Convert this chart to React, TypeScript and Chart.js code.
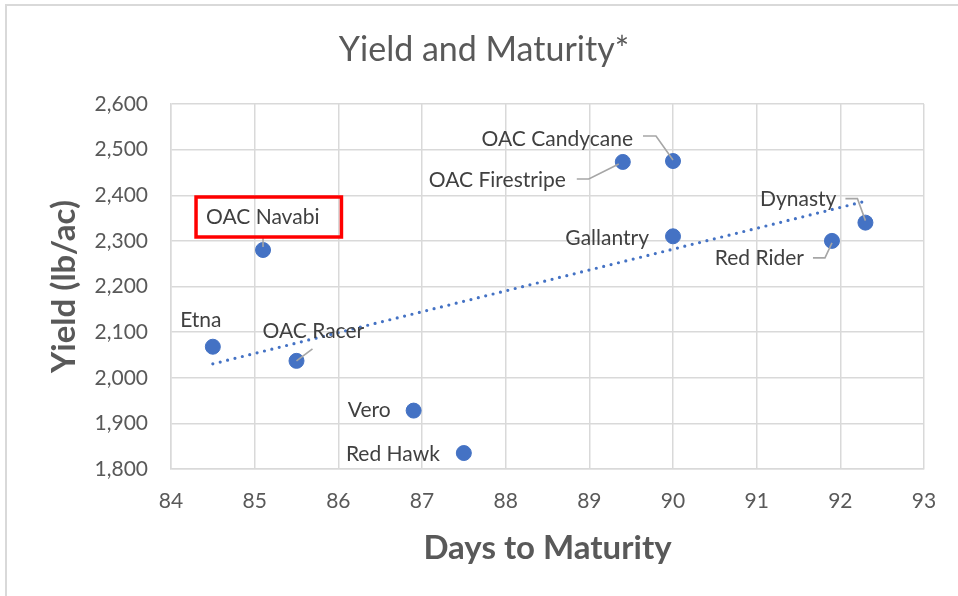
import React, { useEffect, useRef } from 'react';
import { Chart, registerables } from 'chart.js';

Chart.register(...registerables);

// ---- data ----
const varieties = [
  'Etna',
  'OAC Navabi',
  'OAC Racer',
  'Vero',
  'Red Hawk',
  'OAC Firestripe',
  'OAC Candycane',
  'Gallantry',
  'Red Rider',
  'Dynasty',
];
const daysToMaturity = [84.5, 85.1, 85.5, 86.9, 87.5, 89.4, 90.0, 90.0, 91.9, 92.3];
const yieldLbAc = [2068, 2280, 2037, 1928, 1835, 2473, 2475, 2310, 2300, 2340];

const xAxisMin = 84;
const xAxisMax = 93;
const xAxisStep = 1;
const yAxisMin = 1800;
const yAxisMax = 2600;
const yAxisStep = 100;

const chartTitle = 'Yield and Maturity*';
const xAxisTitle = 'Days to Maturity';
const yAxisTitle = 'Yield (lb/ac)';
const highlightedVariety = 'OAC Navabi';

// ---- label layout (pixel offsets from each point; styling only) ----
type LabelLayout = {
  dx: number;
  dy: number;
  align: CanvasTextAlign;
  leader?: [number, number][];
};
const labelLayout: LabelLayout[] = [
  { dx: -12, dy: -26, align: 'center' },
  { dx: -57, dy: -33, align: 'left', leader: [[0, -3], [0, -13]] },
  { dx: -34, dy: -30, align: 'left', leader: [[0, 0], [16, -12]] },
  { dx: -23, dy: 0, align: 'right' },
  { dx: -24, dy: 1, align: 'right' },
  { dx: -57, dy: 18, align: 'right', leader: [[-46, 17], [-34, 17], [-4, 2]] },
  { dx: -40, dy: -22, align: 'right', leader: [[-30, -25], [-17, -25], [0, -1]] },
  { dx: -24, dy: 2, align: 'right' },
  { dx: -28, dy: 17, align: 'right', leader: [[-19, 17], [-7, 17], [0, 2]] },
  { dx: -29, dy: -23, align: 'right', leader: [[-20, -24], [-8, -24], [0, -2]] },
];

const FONT = 'Lato, "Open Sans", sans-serif';
const BLUE = '#4472C4';
const GRID = '#d9d9d9';

function linearFit(xs: number[], ys: number[]) {
  const n = xs.length;
  const mx = xs.reduce((a, b) => a + b, 0) / n;
  const my = ys.reduce((a, b) => a + b, 0) / n;
  let sxy = 0;
  let sxx = 0;
  for (let i = 0; i < n; i++) {
    sxy += (xs[i] - mx) * (ys[i] - my);
    sxx += (xs[i] - mx) * (xs[i] - mx);
  }
  const slope = sxy / sxx;
  return { slope, intercept: my - slope * mx };
}

const framePlugin = {
  id: 'frameAndTitles',
  beforeDraw(chart: any) {
    const ctx = chart.ctx as CanvasRenderingContext2D;
    const { width, height, chartArea } = chart;
    ctx.save();
    ctx.fillStyle = '#ffffff';
    ctx.fillRect(0, 0, width, height);
    ctx.strokeStyle = GRID;
    ctx.lineWidth = 2;
    ctx.beginPath();
    ctx.moveTo(6, height);
    ctx.lineTo(6, 5);
    ctx.lineTo(width, 5);
    ctx.stroke();
    ctx.restore();
  },
  afterDraw(chart: any) {
    const ctx = chart.ctx as CanvasRenderingContext2D;
    const { chartArea } = chart;
    ctx.save();
    ctx.fillStyle = '#595959';
    ctx.textAlign = 'center';
    ctx.textBaseline = 'middle';
    ctx.font = `34px ${FONT}`;
    ctx.fillText(chartTitle, 484, 50);
    ctx.font = `bold 33px ${FONT}`;
    ctx.fillText(xAxisTitle, (chartArea.left + chartArea.right) / 2, 548);
    ctx.translate(64, (chartArea.top + chartArea.bottom) / 2);
    ctx.rotate(-Math.PI / 2);
    ctx.fillText(yAxisTitle, 0, 0);
    ctx.restore();
  },
};

const labelPlugin = {
  id: 'pointLabels',
  afterDatasetsDraw(chart: any) {
    const ctx = chart.ctx as CanvasRenderingContext2D;
    const meta = chart.getDatasetMeta(0);
    ctx.save();
    meta.data.forEach((el: any, i: number) => {
      const px = el.x;
      const py = el.y;
      const L = labelLayout[i];
      if (L.leader) {
        ctx.strokeStyle = '#a6a6a6';
        ctx.lineWidth = 1.6;
        ctx.beginPath();
        L.leader.forEach(([lx, ly], k) => {
          if (k === 0) ctx.moveTo(px + lx, py + ly);
          else ctx.lineTo(px + lx, py + ly);
        });
        ctx.stroke();
      }
      ctx.font = `21px ${FONT}`;
      ctx.fillStyle = '#404040';
      ctx.textAlign = L.align;
      ctx.textBaseline = 'middle';
      const tx = px + L.dx;
      const ty = py + L.dy;
      ctx.fillText(varieties[i], tx, ty);
      if (varieties[i] === highlightedVariety) {
        const w = ctx.measureText(varieties[i]).width;
        let left = tx;
        if (L.align === 'center') left = tx - w / 2;
        if (L.align === 'right') left = tx - w;
        ctx.strokeStyle = '#ff0000';
        ctx.lineWidth = 3.5;
        ctx.strokeRect(left - 10, ty - 20, w + 32, 40);
      }
    });
    ctx.restore();
  },
};

export default function App() {
  const canvasRef = useRef<HTMLCanvasElement | null>(null);

  useEffect(() => {
    if (!canvasRef.current) return;
    const fit = linearFit(daysToMaturity, yieldLbAc);
    const xMinData = Math.min(...daysToMaturity);
    const xMaxData = Math.max(...daysToMaturity);
    const points = daysToMaturity.map((x, i) => ({ x, y: yieldLbAc[i] }));
    const trend = [
      { x: xMinData, y: fit.intercept + fit.slope * xMinData },
      { x: xMaxData, y: fit.intercept + fit.slope * xMaxData },
    ];

    const chart = new Chart(canvasRef.current, {
      type: 'scatter',
      data: {
        datasets: [
          {
            label: 'Yield',
            data: points,
            backgroundColor: BLUE,
            borderColor: BLUE,
            pointRadius: 7.5,
            pointHoverRadius: 7.5,
            order: 0,
          },
          {
            type: 'line',
            label: 'Trend',
            data: trend,
            borderColor: BLUE,
            borderWidth: 3.2,
            borderDash: [0, 7.6],
            borderCapStyle: 'round',
            pointRadius: 0,
            fill: false,
            order: 1,
          } as any,
        ],
      },
      options: {
        animation: false,
        responsive: false,
        maintainAspectRatio: false,
        devicePixelRatio: 1,
        layout: { padding: { left: 0, top: 104, right: 34, bottom: 0 } },
        plugins: {
          legend: { display: false },
          tooltip: { enabled: false },
          title: { display: false },
        },
        scales: {
          x: {
            type: 'linear',
            min: xAxisMin,
            max: xAxisMax,
            ticks: {
              stepSize: xAxisStep,
              color: '#595959',
              font: { family: FONT, size: 21 },
              padding: 20,
              maxRotation: 0,
            },
            grid: { color: GRID, lineWidth: 1.5, drawTicks: false },
            border: { display: true, color: GRID, width: 1.5 },
            afterFit: (s: any) => {
              s.height = 127;
            },
          },
          y: {
            type: 'linear',
            min: yAxisMin,
            max: yAxisMax,
            ticks: {
              stepSize: yAxisStep,
              color: '#595959',
              font: { family: FONT, size: 21 },
              padding: 23,
            },
            grid: { color: GRID, lineWidth: 1.5, drawTicks: false },
            border: { display: true, color: GRID, width: 1.5 },
            afterFit: (s: any) => {
              s.width = 171;
            },
          },
        },
      },
      plugins: [framePlugin, labelPlugin],
    });

    return () => chart.destroy();
  }, []);

  return (
    <div style={{ position: 'absolute', left: 0, top: 0, width: 958, height: 596, background: '#fff' }}>
      <canvas ref={canvasRef} width={958} height={596} style={{ display: 'block' }} />
    </div>
  );
}
